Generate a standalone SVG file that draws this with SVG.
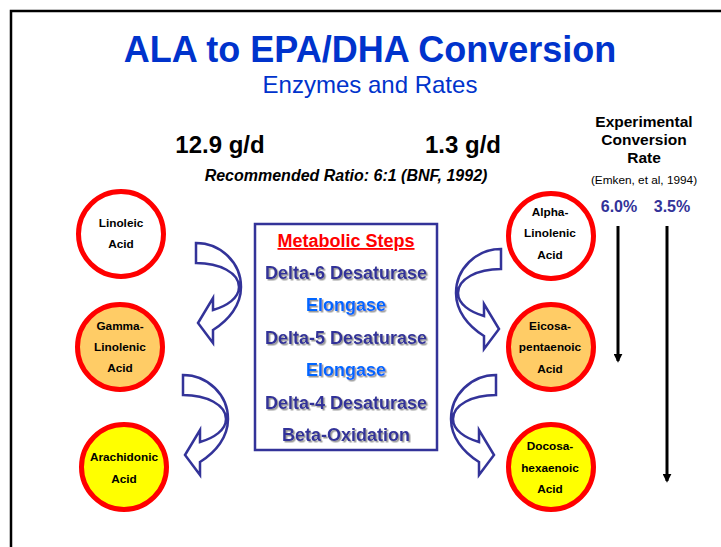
<svg xmlns="http://www.w3.org/2000/svg" width="721" height="547" viewBox="0 0 721 547">
  <style>
    text { font-family: "Liberation Sans", Arial, sans-serif; }
    .title { font-size: 36px; font-weight: bold; fill: #0033cc; text-anchor: middle; }
    .sub { font-size: 24px; fill: #0033cc; text-anchor: middle; }
    .amt { font-size: 24px; font-weight: bold; fill: #000; text-anchor: middle; }
    .ratio { font-size: 16px; font-weight: bold; font-style: italic; fill: #000; text-anchor: middle; }
    .acid { stroke: #ff0000; stroke-width: 5; }
    .lbl { font-size: 11.8px; font-weight: bold; fill: #000; text-anchor: middle; }
    .step { font-size: 18px; font-weight: bold; fill: #333399; text-anchor: middle; filter: url(#shadow); }
    .elong { fill: #0066ff; }
    .head { fill: #ff0000; text-decoration: underline; }
    .bend { fill: #ffffff; stroke: #333399; stroke-width: 2.5; stroke-linejoin: miter; }
    .rate { font-size: 15.5px; font-weight: bold; fill: #000; text-anchor: middle; }
    .cite { font-size: 11.8px; fill: #000; text-anchor: middle; }
    .pct { font-size: 16px; font-weight: bold; fill: #333399; text-anchor: middle; }
    .down { stroke: #000; stroke-width: 3; marker-end: url(#tip); }
  </style>
  <defs>
    <filter id="shadow" x="-10%" y="-30%" width="120%" height="160%">
      <feDropShadow dx="1.5" dy="1.5" stdDeviation="0.7" flood-color="#9a9a9a"/>
    </filter>
    <marker id="tip" viewBox="0 0 10 10" refX="8" refY="5" markerWidth="3" markerHeight="3" orient="auto" markerUnits="strokeWidth">
      <path d="M0,0 L10,5 L0,10 Z" fill="#000"/>
    </marker>
    <!-- curved arrow bending right then back left, head pointing left -->
    <path id="curve" d="M183,375 C208,375 228,395 228,419 C228,437 216,452 200,462 L200,475 L185,455 L200,430 L200,442 C214,438 226,430 226,419 C226,405 207,395 183,395 Z"/>
  </defs>

  <rect width="721" height="547" fill="#ffffff"/>
  <!-- slide frame -->
  <path d="M11,547 L11,11 L721,11" fill="none" stroke="#000" stroke-width="2.5"/>

  <text class="title" x="370" y="62">ALA to EPA/DHA Conversion</text>
  <text class="sub" x="370" y="93">Enzymes and Rates</text>

  <text class="amt" x="220" y="153">12.9 g/d</text>
  <text class="amt" x="463" y="153">1.3 g/d</text>
  <text class="ratio" x="346" y="181">Recommended Ratio: 6:1 (BNF, 1992)</text>

  <!-- omega-6 chain -->
  <g id="linoleic">
    <circle class="acid" cx="121" cy="234" r="42.5" fill="#ffffff"/>
    <text class="lbl" x="121" y="227">Linoleic</text>
    <text class="lbl" x="121" y="248">Acid</text>
  </g>
  <g id="gamma-linolenic">
    <circle class="acid" cx="120" cy="347" r="42.5" fill="#ffcc66"/>
    <text class="lbl" x="120" y="330">Gamma-</text>
    <text class="lbl" x="120" y="351">Linolenic</text>
    <text class="lbl" x="120" y="372">Acid</text>
  </g>
  <g id="arachidonic">
    <circle class="acid" cx="124" cy="467" r="42.5" fill="#ffff00"/>
    <text class="lbl" x="124" y="461">Arachidonic</text>
    <text class="lbl" x="124" y="483">Acid</text>
  </g>

  <!-- omega-3 chain -->
  <g id="alpha-linolenic">
    <circle class="acid" cx="551" cy="236" r="42.5" fill="#ffffff"/>
    <text class="lbl" x="550" y="216">Alpha-</text>
    <text class="lbl" x="550" y="237">Linolenic</text>
    <text class="lbl" x="550" y="259">Acid</text>
  </g>
  <g id="eicosapentaenoic">
    <circle class="acid" cx="551" cy="347" r="42.5" fill="#ffcc66"/>
    <text class="lbl" x="550" y="330">Eicosa-</text>
    <text class="lbl" x="550" y="351">pentaenoic</text>
    <text class="lbl" x="550" y="373">Acid</text>
  </g>
  <g id="docosahexaenoic">
    <circle class="acid" cx="551" cy="467" r="42.5" fill="#ffff00"/>
    <text class="lbl" x="550" y="450">Docosa-</text>
    <text class="lbl" x="550" y="472">hexaenoic</text>
    <text class="lbl" x="550" y="493">Acid</text>
  </g>

  <!-- enzyme list -->
  <g id="metabolic-steps">
    <rect x="255" y="224" width="182" height="226" fill="#ffffff" stroke="#333399" stroke-width="2.5"/>
    <text class="step head" x="346" y="247" style="filter:none">Metabolic Steps</text>
    <text class="step" x="346" y="279">Delta-6 Desaturase</text>
    <text class="step elong" x="346" y="311">Elongase</text>
    <text class="step" x="346" y="344">Delta-5 Desaturase</text>
    <text class="step elong" x="346" y="376">Elongase</text>
    <text class="step" x="346" y="409">Delta-4 Desaturase</text>
    <text class="step" x="346" y="441">Beta-Oxidation</text>
  </g>

  <!-- conversion rates -->
  <g id="conversion-rate">
    <text class="rate" x="644" y="127">Experimental</text>
    <text class="rate" x="644" y="145">Conversion</text>
    <text class="rate" x="644" y="163">Rate</text>
    <text class="cite" x="644" y="184">(Emken, et al, 1994)</text>
    <text class="pct" x="619" y="212">6.0%</text>
    <text class="pct" x="672" y="212">3.5%</text>
  </g>

  <g id="connectors">
    <use href="#curve" class="bend" transform="translate(13,-132)"/>
    <use href="#curve" class="bend"/>
    <use href="#curve" class="bend" transform="translate(684,-126) scale(-1,1)"/>
    <use href="#curve" class="bend" transform="translate(679,0) scale(-1,1)"/>
    <line class="down" x1="618" y1="226" x2="618" y2="361"/>
    <line class="down" x1="667" y1="226" x2="667" y2="481"/>
  </g>
</svg>
